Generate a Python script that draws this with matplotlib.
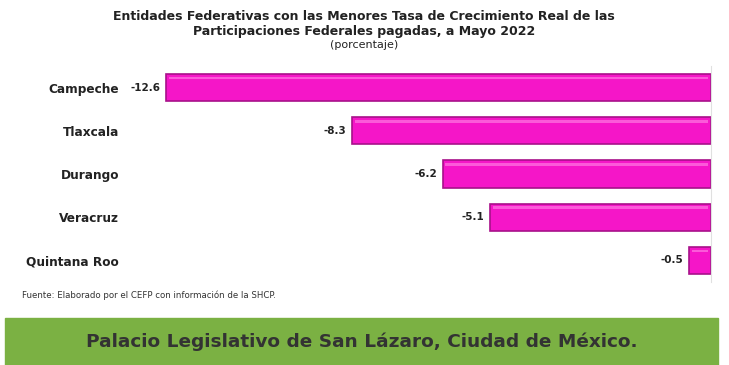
import matplotlib.pyplot as plt
from matplotlib.patches import Rectangle

# data
estados = ['Campeche', 'Tlaxcala', 'Durango', 'Veracruz', 'Quintana Roo']
tasas = [-12.6, -8.3, -6.2, -5.1, -0.5]

fig = plt.figure(figsize=(7.29, 3.65), dpi=100)
W, H = 729, 365

# axes spanning px 130..711 horizontally, 66..282 vertically
ax = fig.add_axes([130 / W, 1 - 282 / H, (711 - 130) / W, (282 - 66) / H])
ypos = list(range(len(estados)))
ax.barh(ypos, tasas, height=0.63, color='#F516C8', edgecolor='#A8118A', linewidth=1.2)
# faint highlight near the top of each bar
ax.barh([y - 0.22 for y in ypos], [v + 0.12 for v in tasas], left=-0.06, height=0.06,
        color='#FB5AD9', linewidth=0)
ax.set_xlim(-13.43, 0)
ax.set_ylim(4.5, -0.5)

for y, v in zip(ypos, tasas):
    ax.text(v - 0.13, y, f'{v:.1f}', ha='right', va='center', fontsize=7.5,
            fontweight='bold', color='#222222')

ax.set_yticks(ypos)
ax.set_yticklabels(estados, fontsize=8.7, fontweight='bold', color='#222222')
ax.tick_params(axis='y', length=0, pad=8)
ax.set_xticks([])
for side in ['top', 'left', 'bottom']:
    ax.spines[side].set_visible(False)
ax.spines['right'].set_color('#E0E0E0')
ax.spines['right'].set_linewidth(0.8)

# title
fig.text(364 / W, 1 - 16 / H, 'Entidades Federativas con las Menores Tasa de Crecimiento Real de las',
         ha='center', va='center', fontsize=9, fontweight='bold', color='#222222')
fig.text(364 / W, 1 - 31 / H, 'Participaciones Federales pagadas, a Mayo 2022',
         ha='center', va='center', fontsize=9, fontweight='bold', color='#222222')
fig.text(364 / W, 1 - 45 / H, '(porcentaje)', ha='center', va='center', fontsize=8, color='#222222')

# source note
fig.text(22 / W, 1 - 295 / H, 'Fuente: Elaborado por el CEFP con información de la SHCP.',
         ha='left', va='center', fontsize=6.2, color='#333333')

# green banner
fig.patches.append(Rectangle((5 / W, 0), 713 / W, 47 / H, transform=fig.transFigure,
                             color='#7BB143', zorder=0))
fig.text(362 / W, 1 - 342 / H, 'Palacio Legislativo de San Lázaro, Ciudad de México.',
         ha='center', va='center', fontsize=13.3, fontweight='bold', color='#333333',
         family='DejaVu Sans')

fig.savefig('out.png', dpi=100)
